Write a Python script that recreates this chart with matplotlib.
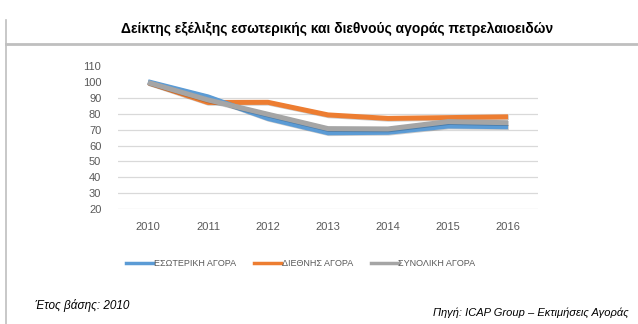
import matplotlib.pyplot as plt
import matplotlib.patheffects as pe
from matplotlib.lines import Line2D

years = [2010, 2011, 2012, 2013, 2014, 2015, 2016]
domestic = [100, 90.5, 77, 68, 68.3, 72.2, 71.8]
international = [99.5, 87, 87.1, 79.2, 77, 77.5, 78]
total = [99.5, 88.6, 79.6, 70.6, 70.4, 75, 74.3]

labels = ['ΕΣΩΤΕΡΙΚΗ ΑΓΟΡΑ', 'ΔΙΕΘΝΗΣ ΑΓΟΡΑ', 'ΣΥΝΟΛΙΚΗ ΑΓΟΡΑ']
colors = ['#5B9BD5', '#ED7D31', '#A5A5A5']
yticks = [20, 30, 40, 50, 60, 70, 80, 90, 100, 110]

plt.rcParams['font.family'] = ['Liberation Sans', 'DejaVu Sans']

fig = plt.figure(figsize=(6.38, 3.24), dpi=100)

# рамка документа
fig.add_artist(Line2D([5.5 / 638, 5.5 / 638], [0, 1 - 20 / 324], color='#bfbfbf', lw=1.2))
fig.add_artist(Line2D([5.5 / 638, 1], [1 - 44 / 324, 1 - 44 / 324], color='#bfbfbf', lw=2))

fig.text(337 / 638, 1 - 29 / 324, 'Δείκτης εξέλιξης εσωτερικής και διεθνούς αγοράς πετρελαιοειδών',
         ha='center', va='center', fontsize=10, fontweight='bold', color='black')

ax = fig.add_axes([118 / 638, 114.7 / 324, 420 / 638, 143.5 / 324])
x = list(range(len(years)))

shadow = [pe.SimpleLineShadow(offset=(0.6, -0.6), alpha=0.2, shadow_color='black'), pe.Normal()]
ax.plot(x, international, color=colors[1], lw=3.6, zorder=3, path_effects=shadow, solid_capstyle='butt')
ax.plot(x, domestic, color=colors[0], lw=3.6, zorder=4, path_effects=shadow, solid_capstyle='butt')
ax.plot(x, total, color=colors[2], lw=3.6, zorder=5, path_effects=shadow, solid_capstyle='butt')

ax.set_xlim(-0.5, len(years) - 0.5)
ax.set_ylim(20, 110)
for v in yticks:
    if v <= 90:
        ax.axhline(v, color='#d9d9d9', lw=0.9, zorder=1)
ax.set_yticks(yticks)
ax.set_xticks(x)
ax.set_xticklabels([str(y) for y in years])
ax.tick_params(length=0, labelsize=8, labelcolor='#595959')
ax.tick_params(axis='y', pad=12)
ax.tick_params(axis='x', pad=9)
for s in ax.spines.values():
    s.set_visible(False)

handles = [Line2D([], [], color=c, lw=2.5) for c in colors]
fig.legend(handles, labels, loc='center', bbox_to_anchor=(301 / 638, 1 - 264 / 324), ncol=3,
           frameon=False, fontsize=6.5, labelcolor='#595959', handlelength=3.0,
           handletextpad=0.05, columnspacing=2.0)

fig.text(35 / 638, 1 - 305 / 324, 'Έτος βάσης: 2010', ha='left', va='center',
         fontsize=8.5, style='italic', color='black')
fig.text(629 / 638, 1 - 313 / 324, 'Πηγή: ICAP Group – Εκτιμήσεις Αγοράς', ha='right', va='center',
         fontsize=8, style='italic', color='black')

fig.savefig('out.png', dpi=100)
